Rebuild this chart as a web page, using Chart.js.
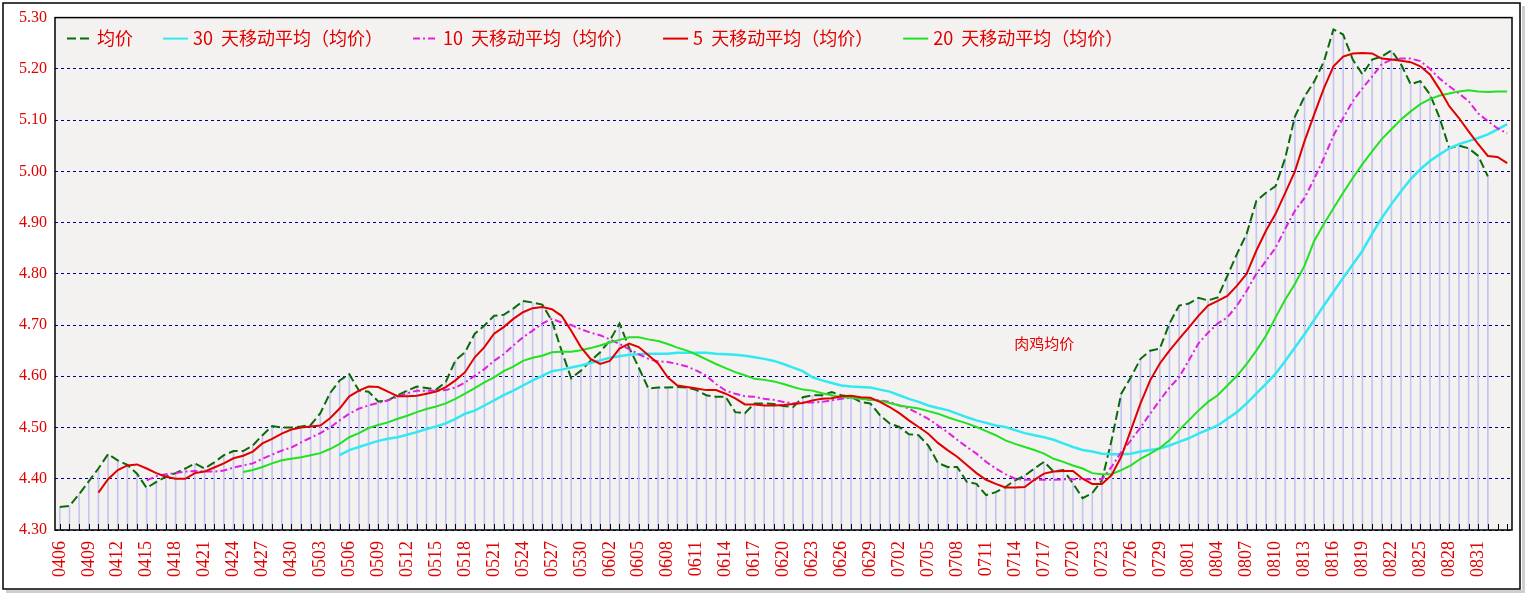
<!DOCTYPE html>
<html><head><meta charset="utf-8">
<script src="https://cdn.jsdelivr.net/npm/chart.js@4"></script>
<style>html,body{margin:0;padding:0;background:#fff}#wrap{width:1533px;height:616px;position:relative}</style>
</head><body><div id="wrap"><canvas id="c"></canvas></div>
<script>
const categories = ("0406 0407 0408 0409 0410 0411 0412 0413 0414 0415 0416 0417 0418 0419 0420 0421 0422 0423 0424 0425 0426 0427 0428 0429 0430 " +
"0501 0502 0503 0504 0505 0506 0507 0508 0509 0510 0511 0512 0513 0514 0515 0516 0517 0518 0519 0520 0521 0522 0523 0524 0525 0526 0527 0528 0529 0530 0531 " +
"0601 0602 0603 0604 0605 0606 0607 0608 0609 0610 0611 0612 0613 0614 0615 0616 0617 0618 0619 0620 0621 0622 0623 0624 0625 0626 0627 0628 0629 0630 " +
"0701 0702 0703 0704 0705 0706 0707 0708 0709 0710 0711 0712 0713 0714 0715 0716 0717 0718 0719 0720 0721 0722 0723 0724 0725 0726 0727 0728 0729 0730 0731 " +
"0801 0802 0803 0804 0805 0806 0807 0808 0809 0810 0811 0812 0813 0814 0815 0816 0817 0818 0819 0820 0821 0822 0823 0824 0825 0826 0827 0828 0829 0830 0831 0901 0902 0903").split(" ");

const price = [4.345,4.347,4.37,4.395,4.42,4.448,4.436,4.427,4.41,4.382,4.394,4.404,4.411,4.42,4.43,4.42,4.432,4.446,4.454,4.454,
4.465,4.485,4.503,4.50,4.50,4.502,4.505,4.528,4.567,4.592,4.604,4.572,4.57,4.551,4.553,4.563,4.572,4.58,4.577,4.574,
4.589,4.631,4.647,4.683,4.699,4.718,4.72,4.732,4.747,4.744,4.74,4.708,4.65,4.596,4.611,4.63,4.647,4.67,4.703,4.656,
4.617,4.576,4.578,4.578,4.579,4.578,4.573,4.563,4.56,4.56,4.53,4.528,4.547,4.547,4.546,4.542,4.54,4.559,4.563,4.563,
4.569,4.563,4.56,4.55,4.547,4.524,4.508,4.501,4.487,4.485,4.465,4.431,4.423,4.423,4.394,4.39,4.368,4.374,4.384,4.397,
4.406,4.42,4.433,4.414,4.417,4.391,4.362,4.372,4.397,4.475,4.566,4.598,4.634,4.65,4.654,4.703,4.738,4.742,4.753,4.748,
4.754,4.796,4.839,4.878,4.942,4.958,4.971,5.026,5.107,5.146,5.175,5.214,5.277,5.267,5.218,5.189,5.218,5.224,5.236,5.209,
5.17,5.176,5.15,5.104,5.045,5.05,5.045,5.03,4.99,null,null];

const ma5 = [null,null,null,null,4.373,4.399,4.417,4.426,4.428,4.42,4.411,4.404,4.40,4.40,4.411,4.414,4.422,4.43,4.44,4.445,
4.453,4.469,4.478,4.488,4.496,4.50,4.502,4.504,4.518,4.537,4.561,4.572,4.58,4.579,4.57,4.561,4.561,4.562,4.566,4.57,
4.579,4.592,4.608,4.637,4.657,4.683,4.696,4.712,4.725,4.733,4.735,4.731,4.718,4.689,4.657,4.634,4.624,4.63,4.654,4.664,
4.657,4.641,4.625,4.598,4.582,4.579,4.576,4.573,4.573,4.566,4.557,4.545,4.545,4.543,4.543,4.544,4.546,4.548,4.553,4.556,
4.557,4.561,4.562,4.559,4.558,4.55,4.54,4.528,4.514,4.501,4.488,4.47,4.456,4.443,4.427,4.411,4.398,4.39,4.383,4.383,
4.384,4.398,4.41,4.414,4.415,4.415,4.40,4.39,4.39,4.407,4.443,4.495,4.547,4.592,4.625,4.65,4.673,4.695,4.718,4.738,
4.747,4.757,4.777,4.80,4.845,4.884,4.917,4.958,5.00,5.059,5.111,5.162,5.205,5.224,5.23,5.231,5.23,5.22,5.218,5.216,
5.213,5.205,5.189,5.16,5.127,5.104,5.078,5.053,5.03,5.028,5.016];

const ma10 = [null,null,null,null,null,null,null,null,null,4.397,4.405,4.409,4.411,4.414,4.415,4.414,4.414,4.416,4.422,4.426,
4.43,4.439,4.447,4.455,4.461,4.471,4.48,4.489,4.50,4.514,4.527,4.537,4.543,4.548,4.553,4.56,4.567,4.572,4.572,4.572,
4.573,4.578,4.588,4.601,4.614,4.63,4.643,4.66,4.676,4.689,4.703,4.712,4.705,4.70,4.692,4.685,4.68,4.672,4.663,4.653,
4.643,4.634,4.629,4.628,4.624,4.619,4.611,4.601,4.585,4.572,4.566,4.561,4.56,4.556,4.554,4.55,4.547,4.549,4.549,4.55,
4.553,4.556,4.558,4.556,4.554,4.553,4.55,4.543,4.537,4.527,4.517,4.504,4.491,4.476,4.462,4.449,4.433,4.42,4.409,4.40,
4.398,4.398,4.398,4.398,4.399,4.399,4.399,4.399,4.399,4.423,4.452,4.475,4.50,4.527,4.553,4.578,4.598,4.631,4.664,4.685,
4.703,4.715,4.738,4.767,4.80,4.825,4.851,4.888,4.923,4.948,4.985,5.026,5.07,5.104,5.137,5.162,5.185,5.209,5.218,5.22,
5.22,5.215,5.20,5.181,5.166,5.152,5.137,5.113,5.098,5.084,5.074];

const ma20 = [null,null,null,null,null,null,null,null,null,null,null,null,null,null,null,null,null,null,null,4.413,
4.417,4.423,4.43,4.436,4.439,4.442,4.446,4.45,4.458,4.468,4.481,4.489,4.499,4.505,4.51,4.517,4.523,4.53,4.536,4.541,
4.547,4.556,4.566,4.577,4.588,4.598,4.61,4.619,4.63,4.636,4.64,4.647,4.648,4.648,4.651,4.655,4.66,4.666,4.671,4.676,
4.676,4.672,4.669,4.663,4.656,4.65,4.642,4.633,4.624,4.616,4.608,4.602,4.595,4.593,4.59,4.585,4.579,4.574,4.572,4.567,
4.563,4.559,4.558,4.556,4.554,4.552,4.548,4.543,4.54,4.537,4.532,4.527,4.52,4.514,4.508,4.501,4.493,4.485,4.475,4.468,
4.462,4.456,4.449,4.439,4.433,4.426,4.42,4.411,4.409,4.409,4.417,4.426,4.439,4.449,4.46,4.475,4.495,4.514,4.533,4.55,
4.563,4.582,4.601,4.624,4.65,4.679,4.715,4.75,4.78,4.816,4.864,4.897,4.928,4.958,4.987,5.014,5.039,5.063,5.082,5.101,
5.117,5.131,5.141,5.148,5.152,5.156,5.158,5.156,5.155,5.156,5.156];

const ma30 = [null,null,null,null,null,null,null,null,null,null,null,null,null,null,null,null,null,null,null,null,
null,null,null,null,null,null,null,null,null,4.446,4.456,4.462,4.468,4.474,4.478,4.481,4.486,4.491,4.497,4.502,
4.508,4.517,4.527,4.533,4.543,4.553,4.563,4.572,4.582,4.592,4.601,4.61,4.613,4.617,4.621,4.626,4.631,4.636,4.639,4.642,
4.643,4.644,4.644,4.644,4.646,4.646,4.646,4.646,4.644,4.643,4.642,4.64,4.637,4.634,4.63,4.624,4.617,4.61,4.598,4.592,
4.587,4.582,4.58,4.579,4.578,4.574,4.57,4.563,4.556,4.55,4.543,4.538,4.534,4.527,4.52,4.514,4.509,4.504,4.501,4.495,
4.489,4.485,4.481,4.476,4.469,4.462,4.456,4.453,4.449,4.448,4.448,4.449,4.453,4.456,4.459,4.465,4.472,4.479,4.488,4.496,
4.504,4.517,4.53,4.547,4.566,4.585,4.605,4.63,4.656,4.682,4.71,4.738,4.765,4.792,4.818,4.845,4.878,4.909,4.936,4.961,
4.985,5.004,5.02,5.033,5.045,5.053,5.059,5.065,5.072,5.082,5.092];

const yTicks = [4.30,4.40,4.50,4.60,4.70,4.80,4.90,5.00,5.10,5.20,5.30];
const legendLabels = ["均价","30  天移动平均（均价）","10  天移动平均（均价）","5  天移动平均（均价）","20  天移动平均（均价）"];
const noteText = "肉鸡均价";

const RED = '#e00000';
const decor = {
  id:'decor',
  beforeDraw(ch){
    const c=ch.ctx, a=ch.chartArea;
    c.save();
    c.fillStyle='#fff'; c.fillRect(0,0,ch.width,ch.height);
    c.strokeStyle='#000'; c.lineWidth=1.5; c.strokeRect(3,3,1517,586);
    c.fillStyle='#cfcfcf'; c.fillRect(1522,6,3,586); c.fillRect(6,590,1519,3);
    c.fillStyle='#f4f2f1'; c.fillRect(a.left,a.top,a.right-a.left,a.bottom-a.top);
    c.restore();
  },
  afterDraw(ch){
    const c=ch.ctx, a=ch.chartArea, xs=ch.scales.x;
    c.save();
    c.strokeStyle='#000'; c.lineWidth=1.5; c.strokeRect(a.left,a.top,a.right-a.left,a.bottom-a.top);
    c.lineWidth=1;
    xs.ticks.forEach((t,i)=>{const x=Math.round(xs.getPixelForTick(i))+0.5;c.beginPath();c.moveTo(x,a.bottom);c.lineTo(x,a.bottom-6);c.stroke();});
    c.font='18px "Noto Sans CJK SC"'; c.textBaseline='middle';
    let x=a.left+12; const y=a.top+21;
    ch.data.datasets.slice(1).forEach((d,i)=>{
      c.strokeStyle=d.borderColor; c.lineWidth=2; c.setLineDash(d.borderDash||[]);
      c.beginPath(); c.moveTo(x,y); c.lineTo(x+25,y); c.stroke(); c.setLineDash([]);
      x+=30; c.fillStyle=RED; c.fillText(d.label,x,y); x+=c.measureText(d.label).width+30;
    });
    c.font='15px "Noto Sans CJK SC"'; c.fillStyle=RED; c.textAlign='center';
    c.fillText(noteText, a.left+(a.right-a.left)*0.679, a.top+326);
    c.restore();
  }
};

new Chart(document.getElementById('c'),{
  data:{labels:categories,datasets:[
    {type:'bar',label:'bars',data:price.map(v=>v===null?null:[4.3,v]),backgroundColor:'#c4c4f0',barThickness:1,order:10},
    {type:'line',label:legendLabels[0],data:price,borderColor:'#0b6b0b',borderWidth:2,borderDash:[9,4],pointRadius:0,tension:0,order:5},
    {type:'line',label:legendLabels[1],data:ma30,borderColor:'#33e8f2',borderWidth:2.5,pointRadius:0,tension:0,order:4},
    {type:'line',label:legendLabels[2],data:ma10,borderColor:'#e020e0',borderWidth:2,borderDash:[7,3,2,3],pointRadius:0,tension:0,order:3},
    {type:'line',label:legendLabels[3],data:ma5,borderColor:'#e00000',borderWidth:2,pointRadius:0,tension:0,order:1},
    {type:'line',label:legendLabels[4],data:ma20,borderColor:'#22e022',borderWidth:2,pointRadius:0,tension:0,order:2}
  ]},
  options:{
    responsive:true,maintainAspectRatio:false,animation:false,
    layout:{padding:{left:3,top:16,right:21,bottom:26}},
    plugins:{legend:{display:false},tooltip:{enabled:false}},
    scales:{
      x:{offset:true,grid:{display:false},border:{display:false},
        afterFit(s){s.height=60;},
        ticks:{autoSkip:false,maxRotation:90,minRotation:90,color:RED,font:{family:'Liberation Serif',size:18},padding:3,
          callback(v,i){return (i%3===0 && i<150)?categories[i]:'';}}},
      y:{min:4.3,max:5.3,border:{display:false,dash:[3,3]},
        afterFit(s){s.width=52;},
        afterBuildTicks(s){s.ticks=yTicks.map(v=>({value:v}));},
        grid:{color:'#000090',lineWidth:1,drawTicks:false},
        ticks:{color:RED,font:{family:'Liberation Serif',size:16},padding:8,callback(v){return v.toFixed(2);}}}
    }
  },
  plugins:[decor]
});
</script></body></html>
